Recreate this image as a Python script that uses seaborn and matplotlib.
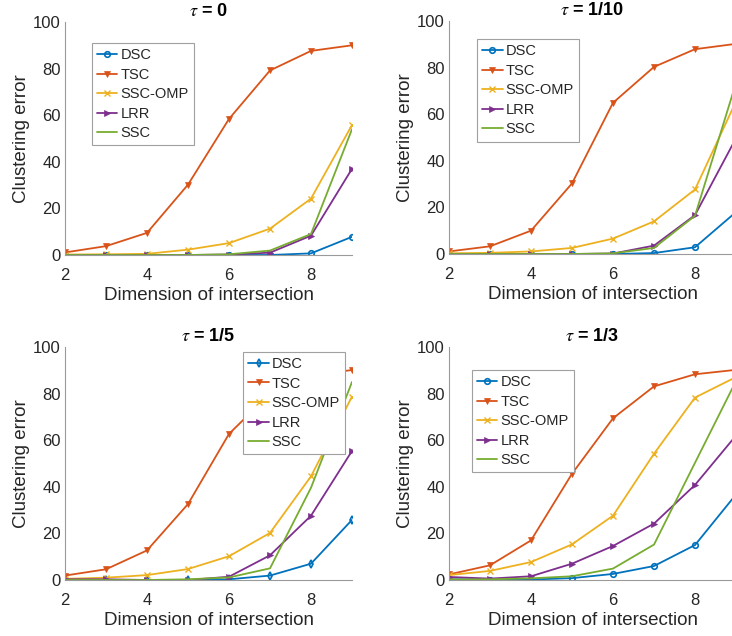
import matplotlib
matplotlib.use("Agg")
import matplotlib.pyplot as plt
import numpy as np
import pandas as pd
import seaborn as sns

# ---------------- data ----------------
dims = [2, 3, 4, 5, 6, 7, 8, 9]
methods = ["DSC", "TSC", "SSC-OMP", "LRR", "SSC"]
titles = [r"$\tau$ = 0", r"$\tau$ = 1/10", r"$\tau$ = 1/5", r"$\tau$ = 1/3"]

# tau = 0
t0_dsc = [0.0, 0.0, 0.0, 0.0, 0.0, 0.0, 0.7, 7.8]
t0_tsc = [1.1, 3.8, 9.5, 30.2, 58.4, 79.2, 87.6, 90.0]
t0_omp = [0.2, 0.3, 0.5, 2.3, 5.1, 11.3, 24.2, 55.8]
t0_lrr = [0.0, 0.0, 0.0, 0.0, 0.2, 1.0, 8.3, 37.0]
t0_ssc = [0.0, 0.0, 0.0, 0.0, 0.3, 1.9, 9.0, 54.0]

# tau = 1/10
t1_dsc = [0.0, 0.0, 0.0, 0.0, 0.0, 0.4, 2.9, 18.0]
t1_tsc = [1.1, 3.3, 10.0, 30.3, 64.9, 80.3, 87.9, 90.2]
t1_omp = [0.3, 0.5, 1.1, 2.6, 6.6, 14.0, 27.7, 65.5]
t1_lrr = [0.0, 0.0, 0.0, 0.0, 0.2, 3.6, 16.7, 49.7]
t1_ssc = [0.0, 0.0, 0.0, 0.0, 0.3, 2.6, 16.4, 73.4]

# tau = 1/5
t2_dsc = [0.0, 0.0, 0.0, 0.0, 0.3, 1.9, 7.0, 25.8]
t2_tsc = [1.9, 4.6, 12.7, 32.6, 62.7, 80.0, 88.0, 90.1]
t2_omp = [0.5, 1.0, 2.1, 4.7, 10.2, 20.2, 44.5, 78.7]
t2_lrr = [0.3, 0.3, 0.0, 0.0, 1.4, 10.6, 27.6, 55.4]
t2_ssc = [0.0, 0.0, 0.0, 0.3, 1.1, 5.0, 39.6, 85.0]

# tau = 1/3
t3_dsc = [0.3, 0.2, 0.2, 0.8, 2.6, 6.0, 15.0, 36.7]
t3_tsc = [2.4, 6.3, 17.0, 45.6, 69.4, 83.1, 88.3, 90.2]
t3_omp = [2.1, 3.9, 7.7, 15.3, 27.6, 54.2, 78.3, 87.1]
t3_lrr = [1.3, 0.6, 1.6, 7.0, 14.6, 24.2, 40.8, 62.0]
t3_ssc = [0.2, 0.3, 0.7, 1.6, 4.9, 15.2, 50.3, 85.4]

panels = [
    [t0_dsc, t0_tsc, t0_omp, t0_lrr, t0_ssc],
    [t1_dsc, t1_tsc, t1_omp, t1_lrr, t1_ssc],
    [t2_dsc, t2_tsc, t2_omp, t2_lrr, t2_ssc],
    [t3_dsc, t3_tsc, t3_omp, t3_lrr, t3_ssc],
]

# ---------------- style ----------------
sns.set_style("white")
plt.rcParams["font.family"] = ["Liberation Sans", "DejaVu Sans"]
plt.rcParams["mathtext.fontset"] = "stix"

colors = ["#0072BD", "#D95319", "#EDB120", "#7E2F8E", "#77AC30"]
markers = ["o", "v", "x", ">", None]
text_col = "#262626"
spine_col = "#9a9a9a"

fig = plt.figure(figsize=(7.32, 6.36), dpi=100)

W = 287 / 732
H = 233 / 636
positions = [
    (65 / 732, (636 - 255) / 636),
    (449 / 732, (636 - 254) / 636),
    (65 / 732, (636 - 580) / 636),
    (449 / 732, (636 - 580) / 636),
]
legend_anchor = [
    ("upper left", (0.094, 0.91)),
    ("upper left", (0.098, 0.922)),
    ("upper right", (0.976, 0.979)),
    ("upper left", (0.08, 0.901)),
]

for p, (vals, title) in enumerate(zip(panels, titles)):
    ax = fig.add_axes([positions[p][0], positions[p][1], W, H])
    for i, (name, v) in enumerate(zip(methods, vals)):
        m = markers[i]
        if p == 2 and name == "DSC":
            m = "d"
        kw = {}
        if m in ("o", "d"):
            kw = dict(markerfacecolor="none", markeredgewidth=1.2)
        elif m in ("v", ">"):
            kw = dict(markeredgewidth=0.5)
        elif m == "x":
            kw = dict(markeredgewidth=1.0)
        df = pd.DataFrame({"dim": dims, "err": v})
        sns.lineplot(data=df, x="dim", y="err", ax=ax, color=colors[i],
                     marker=m, markersize=4, linewidth=1.3, label=name,
                     markeredgecolor=colors[i], **kw)
    ax.set_xlim(2, 9)
    ax.set_ylim(0, 100)
    ax.set_xticks([2, 4, 6, 8])
    ax.set_yticks([0, 20, 40, 60, 80, 100])
    ax.set_xlabel("Dimension of intersection", fontsize=13.5, color=text_col, labelpad=3)
    ax.set_ylabel("Clustering error", fontsize=13.5, color=text_col, labelpad=2)
    ax.set_title(title, fontsize=13, fontweight="bold", color="black", pad=4)
    for s in ["top", "right"]:
        ax.spines[s].set_visible(False)
    for s in ["left", "bottom"]:
        ax.spines[s].set_color(spine_col)
        ax.spines[s].set_linewidth(0.8)
    ax.tick_params(axis="both", direction="in", length=3, width=0.8,
                   color=spine_col, labelsize=12, labelcolor=text_col)
    ax.tick_params(axis="x", pad=9.5)
    ax.tick_params(axis="y", pad=3)
    loc, anchor = legend_anchor[p]
    leg = ax.legend(loc=loc, bbox_to_anchor=anchor, fontsize=10.5, frameon=True,
                    fancybox=False, framealpha=1, edgecolor="#a0a0a0",
                    handlelength=1.4, handletextpad=0.2, borderpad=0.35,
                    labelspacing=0.38, borderaxespad=0)
    leg.get_frame().set_linewidth(0.8)
    for t in leg.get_texts():
        t.set_color(text_col)

fig.savefig("out.png", dpi=100)
